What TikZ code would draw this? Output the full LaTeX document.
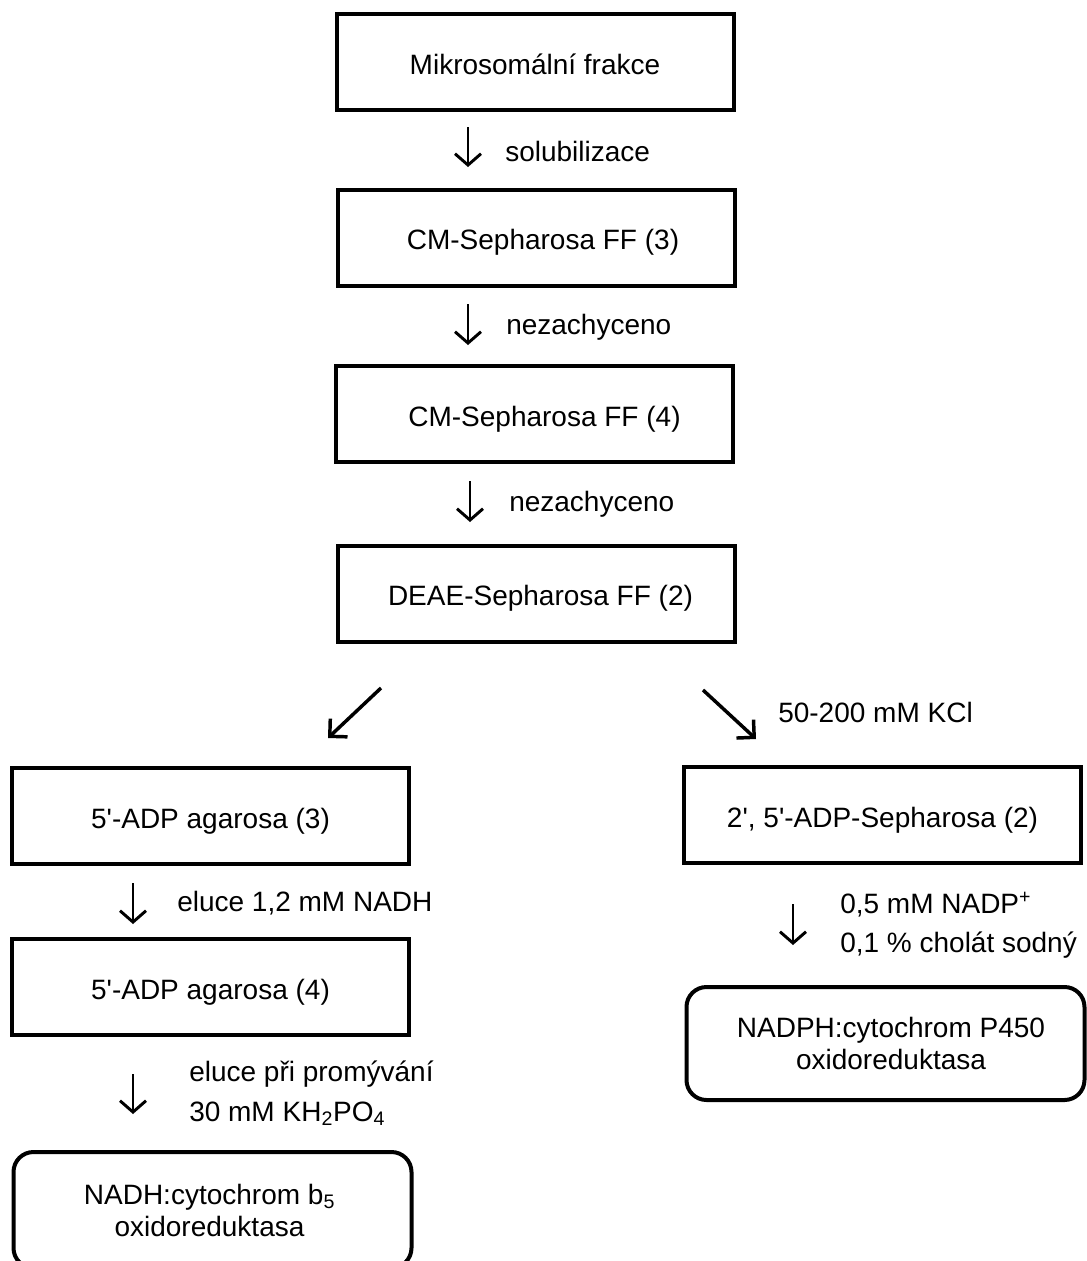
\documentclass[tikz,border=0pt]{standalone}
\usepackage{fontspec}
\setmainfont{Liberation Sans}[Ligatures=TeXOff]
\usetikzlibrary{arrows.meta}
\begin{document}
\begin{tikzpicture}[x=0.75pt,y=-0.75pt,
  font=\fontsize{21}{24}\selectfont,
  stage/.style={draw,line width=3pt,minimum width=297.75pt,minimum height=72pt,inner sep=0pt,
    text height=18pt,text depth=0pt},
  product/.style={draw,line width=3pt,rounded corners=15pt,minimum width=298.5pt,align=center,inner sep=0pt},
  flow/.style={line width=2.2pt,-{Straight Barb[length=8.5pt,width=19.5pt,line width=2.2pt]}},
  fork/.style={line width=2.6pt,-{Straight Barb[angle=90:13.3pt,line width=2.6pt]}},
  note/.style={anchor=west,inner sep=0pt,align=left}]
\useasboundingbox (0,0) rectangle (1086,1261);

% main column
\node[stage] (mikro) at (535,62) {Mikrosomální frakce};
\node[stage] (cm3) at (536.5,237.5) {\hspace*{9.75pt}CM-Sepharosa FF (3)};
\node[stage] (cm4) at (534.5,414) {\hspace*{15pt}CM-Sepharosa FF (4)};
\node[stage] (deae) at (536.5,593.5) {\hspace*{6pt}DEAE-Sepharosa FF (2)};

% left branch
\node[stage] (adp3) at (210.5,816) {5'-ADP agarosa (3)};
\node[stage] (adp4) at (210.5,987) {5'-ADP agarosa (4)};
\node[product,minimum height=87pt] (nadh) at (212.5,1210) {NADH:cytochrom b\textsubscript{5}\hspace*{4.5pt}\\oxidoreduktasa\hspace*{4.5pt}};

% right branch
\node[stage] (adps) at (882.5,815) {2', 5'-ADP-Sepharosa (2)};
\node[product,minimum height=84.75pt] (nadph) at (885.5,1043.5) {\hspace*{8.25pt}NADPH:cytochrom P450\\\hspace*{8.25pt}oxidoreduktasa};

% step arrows
\coordinate (s1a) at (468,127); \coordinate (s1b) at (468,167);
\coordinate (s2a) at (468,304); \coordinate (s2b) at (468,345);
\coordinate (s3a) at (470,481); \coordinate (s3b) at (470,522);
\coordinate (s4a) at (133,883); \coordinate (s4b) at (133,924);
\coordinate (s5a) at (133,1074); \coordinate (s5b) at (133,1114);
\coordinate (s6a) at (793,904); \coordinate (s6b) at (793,945);
\draw[flow] (s1a) -- (s1b);
\draw[flow] (s2a) -- (s2b);
\draw[flow] (s3a) -- (s3b);
\draw[flow] (s4a) -- (s4b);
\draw[flow] (s5a) -- (s5b);
\draw[flow] (s6a) -- (s6b);

% branching arrows
\coordinate (fla) at (381,688); \coordinate (flb) at (328,738);
\coordinate (fra) at (703,690); \coordinate (frb) at (756,739);
\draw[fork] (fla) -- (flb);
\draw[fork] (fra) -- (frb);

% step labels
\node[note] (l1) at (505,151) {solubilizace};
\node[note] (l2) at (506,327) {nezachyceno};
\node[note] (l3) at (509,504) {nezachyceno};
\node[note] (l4) at (778,712) {50-200 mM KCl};
\node[note] (l5) at (177,903) {eluce 1,2 mM NADH};
\node[note,font=\fontsize{21}{30}\selectfont] (l6) at (189,1093) {eluce při promývání\\30 mM KH\textsubscript{2}PO\textsubscript{4}};
\node[note,font=\fontsize{21}{29}\selectfont] (l7) at (840,925.5) {0,5 mM NADP\textsuperscript{+}\\0,1 \% cholát sodný};
\end{tikzpicture}
\end{document}
